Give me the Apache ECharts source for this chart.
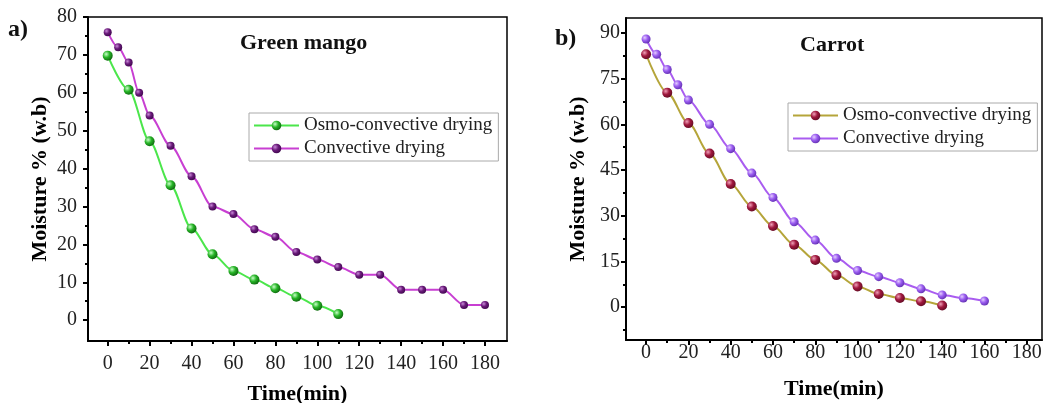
<!DOCTYPE html>
<html>
<head>
<meta charset="utf-8">
<script src="https://cdn.jsdelivr.net/npm/echarts@6/dist/echarts.min.js"></script>
<style>
html, body { margin: 0; padding: 0; background: #fff; }
#chart { width: 1046px; height: 403px; }
</style>
</head>
<body>
<div id="chart"></div>
<script>
// a) Green mango
var mangoOsmoTime = [0, 10, 20, 30, 40, 50, 60, 70, 80, 90, 100, 110];
var mangoOsmoMoist = [69.8, 60.8, 47.2, 35.6, 24.2, 17.4, 13, 10.7, 8.4, 6.2, 3.8, 1.6];
var mangoConvTime = [0, 5, 10, 15, 20, 30, 40, 50, 60, 70, 80, 90, 100, 110, 120, 130, 140, 150, 160, 170, 180];
var mangoConvMoist = [76, 72, 68, 60, 54, 46, 38, 30, 28, 24, 22, 18, 16, 14, 12, 12, 8, 8, 8, 4, 4];

// b) Carrot
var carrotOsmoTime = [0, 10, 20, 30, 40, 50, 60, 70, 80, 90, 100, 110, 120, 130, 140];
var carrotOsmoMoist = [83, 70.4, 60.4, 50.4, 40.4, 33, 26.6, 20.5, 15.5, 10.5, 6.8, 4.3, 3, 1.9, 0.5];
var carrotConvTime = [0, 5, 10, 15, 20, 30, 40, 50, 60, 70, 80, 90, 100, 110, 120, 130, 140, 150, 160];
var carrotConvMoist = [88, 83, 78, 73, 68, 60, 52, 44, 36, 28, 22, 16, 12, 10, 8, 6, 4, 3, 2];

// tick labels
var xTicks = [0, 20, 40, 60, 80, 100, 120, 140, 160, 180];
var xMinor = [10, 30, 50, 70, 90, 110, 130, 150, 170];
var yTicksA = [0, 10, 20, 30, 40, 50, 60, 70, 80];
var yMinorA = [5, 15, 25, 35, 45, 55, 65, 75];
var yTicksB = [0, 15, 30, 45, 60, 75, 90];
var yMinorB = [-7.5, 7.5, 22.5, 37.5, 52.5, 67.5, 82.5];

var legendNames = ['Osmo-convective drying', 'Convective drying'];

var SERIF = '"Liberation Serif", "Times New Roman", serif';

function zip(xs, ys) {
	var out = [];
	for (var i = 0; i < xs.length; i++) {
		out.push([xs[i], ys[i]]);
	}
	return out;
}

function ball(light, mid, dark) {
	return {
		type: 'radial', x: 0.35, y: 0.35, r: 0.75,
		colorStops: [
			{ offset: 0, color: light },
			{ offset: 0.45, color: mid },
			{ offset: 1, color: dark }
		]
	};
}

// 颜色
var styleA = [
	{ line: '#4be64b', ball: ball('#c8ffc8', '#27b527', '#0b5a0b'), size: 10 },
	{ line: '#c83fd2', ball: ball('#c888d8', '#6a1a7a', '#3a0648'), size: 8 }
];
var styleB = [
	{ line: '#b5a53a', ball: ball('#f0a0b8', '#a0183e', '#5a0a20'), size: 10 },
	{ line: '#a95cf0', ball: ball('#e4ccff', '#9a5cf0', '#5a2aa8'), size: 9 }
];

// 主轴：刻度和标签
function mainX(grid, min, max, margin, gap) {
	return {
		gridIndex: grid, type: 'value', min: min, max: max, position: 'bottom',
		axisLine: { show: true, onZero: false, lineStyle: { color: '#000', width: 2 } },
		axisTick: { show: true, customValues: xTicks, length: 5, lineStyle: { color: '#000', width: 2 } },
		axisLabel: { customValues: xTicks, fontFamily: SERIF, fontSize: 20, color: '#222', margin: margin },
		splitLine: { show: false },
		name: 'Time(min)', nameLocation: 'middle', nameGap: gap,
		nameTextStyle: { fontFamily: SERIF, fontSize: 22, fontWeight: 'bold', color: '#000' }
	};
}
function mainY(grid, min, max, ticks, margin, gap) {
	return {
		gridIndex: grid, type: 'value', min: min, max: max, position: 'left',
		axisLine: { show: true, onZero: false, lineStyle: { color: '#000', width: 2 } },
		axisTick: { show: true, customValues: ticks, length: 5, lineStyle: { color: '#000', width: 2 } },
		axisLabel: { customValues: ticks, fontFamily: SERIF, fontSize: 20, color: '#222', margin: margin },
		splitLine: { show: false },
		name: 'Moisture % (w.b)', nameLocation: 'middle', nameGap: gap,
		nameTextStyle: { fontFamily: SERIF, fontSize: 22, fontWeight: 'bold', color: '#000' }
	};
}
// 次刻度
function minorAxis(grid, min, max, ticks, pos) {
	return {
		gridIndex: grid, type: 'value', min: min, max: max, position: pos,
		axisLine: { show: false, onZero: false },
		axisTick: { show: true, customValues: ticks, length: 3, lineStyle: { color: '#000', width: 2 } },
		axisLabel: { show: false },
		splitLine: { show: false }
	};
}

function lineSeries(name, xi, yi, data, st) {
	return {
		name: name, type: 'line', xAxisIndex: xi, yAxisIndex: yi,
		data: data, smooth: 0.3, smoothMonotone: 'x',
		symbol: 'circle', symbolSize: st.size,
		lineStyle: { color: st.line, width: 2 },
		itemStyle: { color: st.ball, borderWidth: 0 },
		z: 3
	};
}

function legendData(st) {
	return [
		{ name: legendNames[0], itemStyle: { color: st[0].ball }, lineStyle: { color: st[0].line, width: 2 } },
		{ name: legendNames[1], itemStyle: { color: st[1].ball }, lineStyle: { color: st[1].line, width: 2 } }
	];
}

function legendBox(st, left, top) {
	return {
		data: legendData(st),
		orient: 'vertical', left: left, top: top,
		itemWidth: 45, itemHeight: 12, itemGap: 4,
		padding: [3, 6, 3, 4],
		backgroundColor: '#fff', borderColor: '#aaa', borderWidth: 1,
		textStyle: { fontFamily: SERIF, fontSize: 19, color: '#222' }
	};
}

var chart = echarts.init(document.getElementById('chart'));

var option = {
	animation: false,
	backgroundColor: '#fff',
	grid: [
		{ left: 88, top: 17, width: 419, height: 324, outerBoundsMode: 'none', show: true, borderColor: '#000', borderWidth: 1.5 },
		{ left: 626, top: 18, width: 416, height: 322, outerBoundsMode: 'none', show: true, borderColor: '#000', borderWidth: 1.5 }
	],
	xAxis: [
		mainX(0, -9.4, 190.5, 13, 42),
		minorAxis(0, -9.4, 190.5, xMinor, 'bottom'),
		mainX(1, -9.5, 187.2, 3, 38),
		minorAxis(1, -9.5, 187.2, xMinor, 'bottom')
	],
	yAxis: [
		mainY(0, -5.5, 80, yTicksA, 11, 37),
		minorAxis(0, -5.5, 80, yMinorA, 'left'),
		mainY(1, -10.8, 94.9, yTicksB, 6, 37),
		minorAxis(1, -10.8, 94.9, yMinorB, 'left')
	],
	legend: [
		legendBox(styleA, 249, 113),
		legendBox(styleB, 788, 103)
	],
	graphic: [
		{ type: 'text', left: 8, top: 18, style: { text: 'a)', font: 'bold 24px ' + SERIF, fill: '#111' } },
		{ type: 'text', left: 555, top: 27, style: { text: 'b)', font: 'bold 24px ' + SERIF, fill: '#111' } },
		{ type: 'text', left: 240, top: 32, style: { text: 'Green mango', font: 'bold 22px ' + SERIF, fill: '#111' } },
		{ type: 'text', left: 800, top: 34, style: { text: 'Carrot', font: 'bold 22px ' + SERIF, fill: '#111' } }
	],
	series: [
		lineSeries(legendNames[0], 0, 0, zip(mangoOsmoTime, mangoOsmoMoist), styleA[0]),
		lineSeries(legendNames[1], 0, 0, zip(mangoConvTime, mangoConvMoist), styleA[1]),
		lineSeries(legendNames[0], 2, 2, zip(carrotOsmoTime, carrotOsmoMoist), styleB[0]),
		lineSeries(legendNames[1], 2, 2, zip(carrotConvTime, carrotConvMoist), styleB[1])
	]
};
chart.setOption(option);
</script>
</body>
</html>
